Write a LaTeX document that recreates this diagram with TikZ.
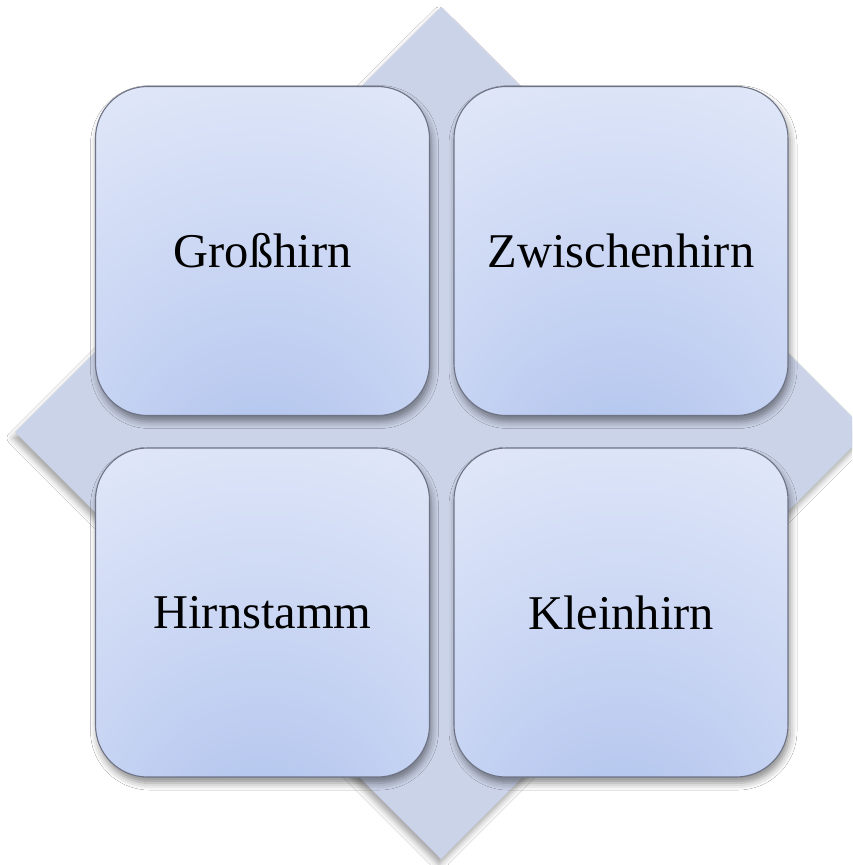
\documentclass[tikz,border=0pt]{standalone}
\usepackage{fontspec}
\setmainfont{Liberation Serif}
\usetikzlibrary{shadows.blur}
\definecolor{diamondfill}{HTML}{CBD3E8}
\definecolor{boxline}{HTML}{6E7486}
\definecolor{blueA}{HTML}{A9BEEB}
\definecolor{blueB}{HTML}{C3D1F2}
\definecolor{blueC}{HTML}{DFE6F8}
\definecolor{blueD}{HTML}{E8ECFA}
\pgfdeclareradialshading{boxrad}{\pgfpoint{0bp}{-42bp}}{%
  color(0bp)=(blueA); color(22bp)=(blueB); color(50bp)=(blueC); color(78bp)=(blueD); color(100bp)=(blueD)}
\tikzset{
  brainbox/.style={shade, shading=boxrad, draw=boxline, line width=1.1pt,
    rounded corners=52pt, minimum width=334pt, minimum height=329pt,
    inner sep=0pt, font=\fontsize{48.5}{52}\selectfont, text=black,
    blur shadow={shadow xshift=2pt, shadow yshift=-6pt, shadow blur radius=7pt, shadow opacity=45}},
  backdiamond/.style={fill=diamondfill,
    blur shadow={shadow xshift=-2pt, shadow yshift=-6pt, shadow blur radius=6pt, shadow opacity=35}}
}
\begin{document}
\begin{tikzpicture}[x=1pt,y=-1pt]
\useasboundingbox (0,0) rectangle (852,865);
\fill[white] (0,0) rectangle (852,865);
\begin{scope}
\clip (0,0) rectangle (852,865);
\path[backdiamond] (441,7) -- (867,432) -- (441,859) -- (15,432) -- cycle;
\end{scope}
\node[brainbox] (gross) at (262.5,251) {Großhirn};
\node[brainbox] (zwischen) at (621,251) {Zwischenhirn};
\node[brainbox] (stamm) at (262.5,612.5) {Hirnstamm};
\node[brainbox] (klein) at (621,612.5) {Kleinhirn};
\end{tikzpicture}
\end{document}
